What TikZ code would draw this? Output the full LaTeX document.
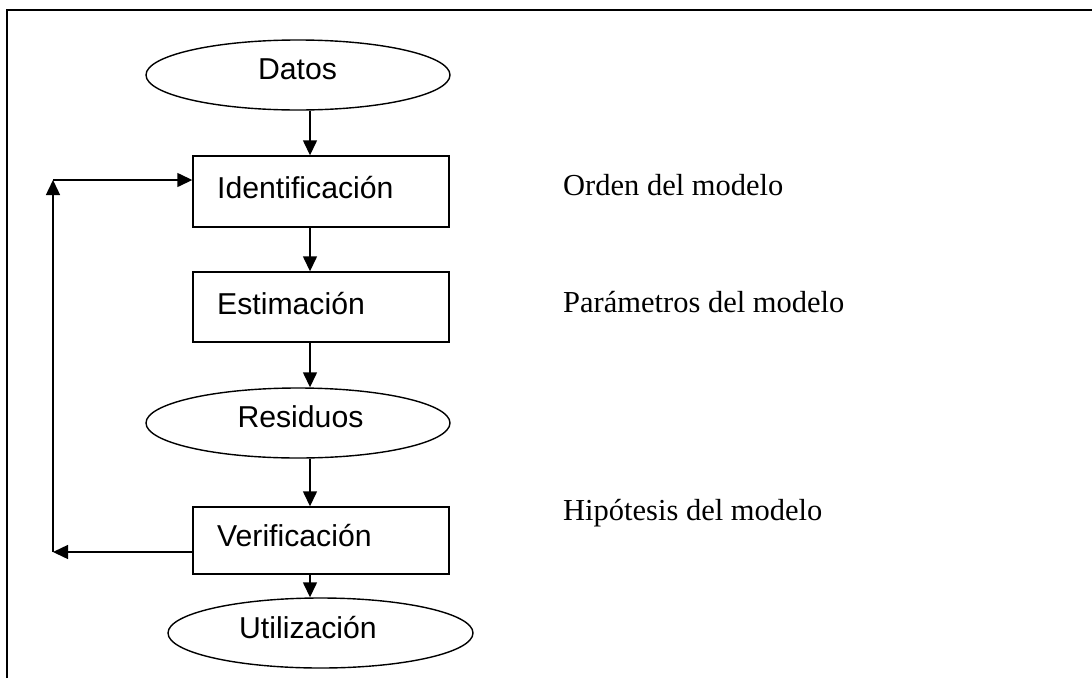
\documentclass[tikz,border=0pt]{standalone}
\usepackage{fontspec}
\setmainfont{Liberation Serif}
\newfontfamily\arialf{Liberation Sans}
\usetikzlibrary{shapes.geometric,arrows.meta}
\begin{document}
\begin{tikzpicture}[x=1pt,y=-1pt,
  box/.style={draw, line width=1.4pt, minimum width=256pt, inner sep=0pt},
  oval/.style={draw, ellipse, line width=1.4pt, minimum width=304pt, minimum height=70pt, inner sep=0pt},
  sanslbl/.style={font=\arialf\fontsize{30.2}{36}\selectfont, inner sep=0pt},
  serlbl/.style={font=\fontsize{30.5}{36}\selectfont, inner sep=0pt, anchor=base west},
  arr/.style={line width=1.4pt, -{Triangle[length=15pt,width=14pt]}},
  frameline/.style={line width=1.6pt}]
\useasboundingbox (0,0) rectangle (1092,678);
% frame (cropped: top and left only)
\coordinate (fBL) at (7,678);
\coordinate (fTL) at (7,10);
\coordinate (fTR) at (1092,10);
\draw[frameline] (fBL) -- (fTL) -- (fTR);
% shapes
\node[oval] (datos) at (298,75) {};
\node[box, minimum height=71pt] (ident) at (321,191.5) {};
\node[box, minimum height=70pt] (estim) at (321,307) {};
\node[oval] (resid) at (298,423) {};
\node[box, minimum height=67pt] (verif) at (321,540.5) {};
\node[oval, minimum width=305pt] (util) at (320.5,633) {};
% texts in shapes
\node[sanslbl, anchor=base] (tdatos) at (297.5,79) {Datos};
\node[sanslbl, anchor=base west] (tident) at (217,198) {Identificación};
\node[sanslbl, anchor=base west] (testim) at (217,314) {Estimación};
\node[sanslbl, anchor=base] (tresid) at (300.5,427) {Residuos};
\node[sanslbl, anchor=base west] (tverif) at (217,546) {Verificación};
\node[sanslbl, anchor=base] (tutil) at (308,638) {Utilización};
% side texts
\node[serlbl] (lorden) at (563,195) {Orden del modelo};
\node[serlbl] (lparam) at (563,312) {Parámetros del modelo};
\node[serlbl] (lhip) at (563,520) {Hipótesis del modelo};
% main flow arrows
\coordinate (ax) at (310,0);
\draw[arr] (datos.south -| ax) -- (ident.north -| ax);
\draw[arr] (ident.south -| ax) -- (estim.north -| ax);
\draw[arr] (estim.south -| ax) -- (resid.north -| ax);
\draw[arr] (resid.south -| ax) -- (verif.north -| ax);
\draw[arr] (verif.south -| ax) -- (util.north -| ax);
% feedback loop
\coordinate (fbB) at (53,552);
\coordinate (fbT) at (53,180);
\draw[arr] (verif.west |- fbB) -- (fbB);
\draw[arr] (fbB) -- (fbT);
\draw[arr] (fbT) -- (fbT -| ident.west);
\end{tikzpicture}
\end{document}
